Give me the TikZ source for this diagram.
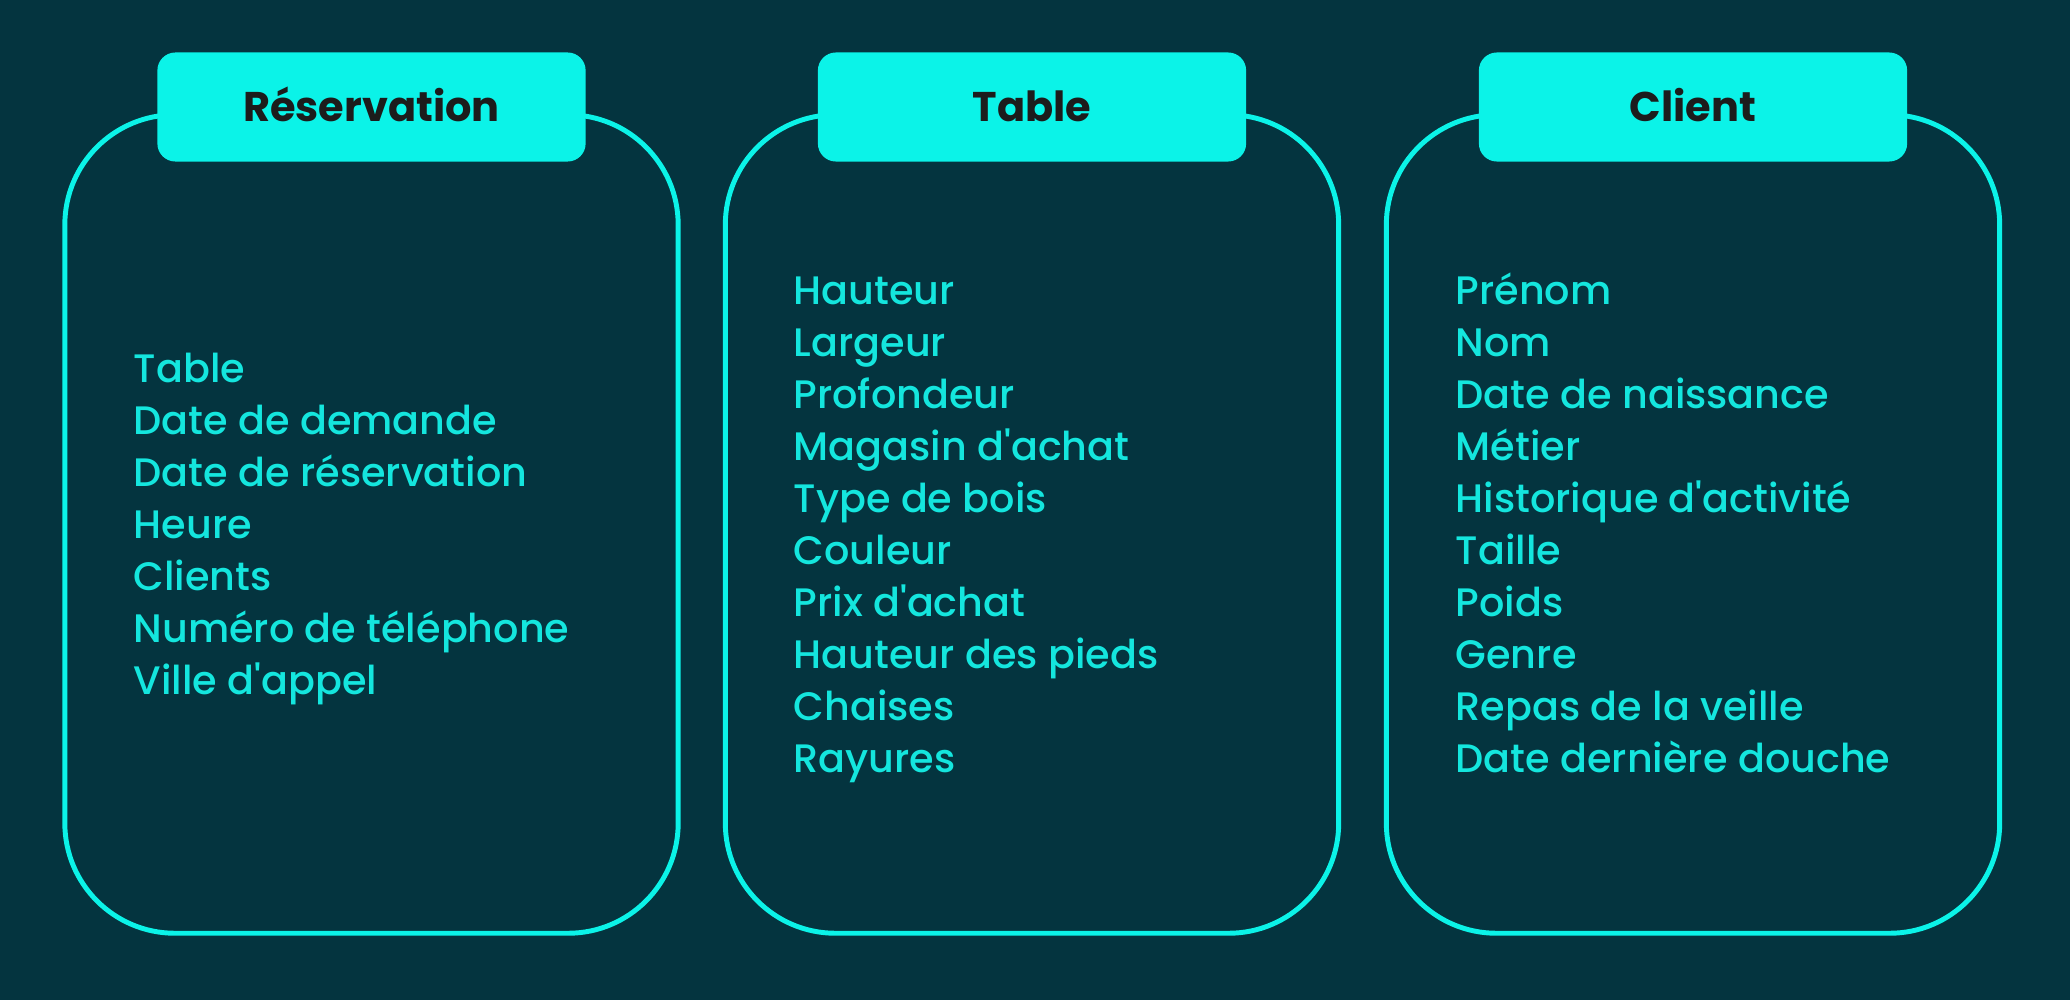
\documentclass[tikz,border=0pt]{standalone}
\usepackage{fontspec}
\setmainfont{Poppins}
\newfontfamily\popmed{Poppins Medium}
\definecolor{bg}{HTML}{04343F}
\definecolor{cy}{HTML}{0BF3E8}
\definecolor{cytext}{HTML}{14E6DE}
\definecolor{hdtext}{HTML}{1C1C1C}
\begin{document}
\begin{tikzpicture}[x=0.01cm,y=-0.01cm,
  bigbox/.style={draw=cy,line width=1.4pt,rounded corners=1.1cm,minimum width=6.13cm,minimum height=8.18cm,inner sep=0pt},
  hdr/.style={fill=cy,rounded corners=0.18cm,minimum width=4.28cm,minimum height=1.09cm,inner sep=0pt,text height=0.29cm,text depth=0cm,
    font=\fontsize{11.8}{14}\selectfont\bfseries,text=hdtext},
  item/.style={anchor=base west,inner sep=0pt,font=\popmed\fontsize{11.3}{14.8}\selectfont,text=cytext}]
\useasboundingbox (0,0) rectangle (2070,1000);
\fill[bg] (0,0) rectangle (2070,1000);
% boxes
\node[bigbox] (b1) at (371.5,524) {};
\node[bigbox] (b2) at (1032,524) {};
\node[bigbox] (b3) at (1693,524) {};
\node[hdr] (h1) at (371.5,107) {Réservation};
\node[hdr] (h2) at (1032,107) {Table};
\node[hdr] (h3) at (1693,107) {Client};
% lists
\foreach \t [count=\i] in {Table,Date de demande,Date de réservation,Heure,Clients,Numéro de téléphone,Ville d'appel}
  \node[item] (r\i) at (133,{382+52*(\i-1)}) {\t};
\foreach \t [count=\i] in {Hauteur,Largeur,Profondeur,Magasin d'achat,Type de bois,Couleur,Prix d'achat,Hauteur des pieds,Chaises,Rayures}
  \node[item] (t\i) at (793,{304+52*(\i-1)}) {\t};
\foreach \t [count=\i] in {Prénom,Nom,Date de naissance,Métier,Historique d'activité,Taille,Poids,Genre,Repas de la veille,Date dernière douche}
  \node[item] (c\i) at (1455,{304+52*(\i-1)}) {\t};
\end{tikzpicture}
\end{document}
